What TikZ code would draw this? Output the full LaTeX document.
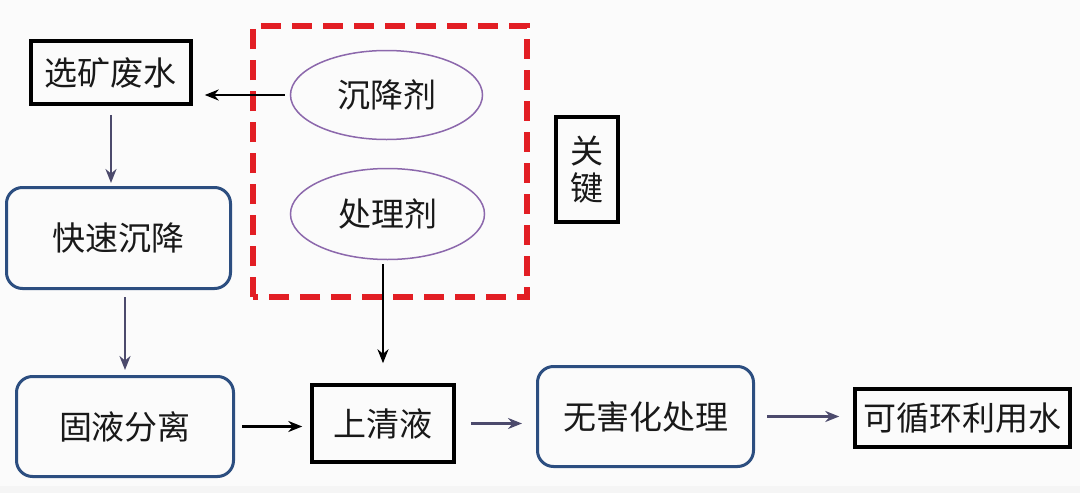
\documentclass[tikz,border=0pt]{standalone}
\usepackage{fontspec}
\newfontfamily\cjk{Noto Sans CJK SC}
\usepackage{tikz}
\usetikzlibrary{arrows.meta, shapes, positioning}

\definecolor{boxblue}{RGB}{44,78,128}
\definecolor{flowgray}{RGB}{76,74,108}
\definecolor{agentpurple}{RGB}{140,104,172}
\definecolor{keyred}{RGB}{226,30,36}
\definecolor{paper}{RGB}{251,251,251}

\tikzset{
	txt/.style={font=\cjk\fontsize{33}{40}\selectfont, text=black!90},
	plainbox/.style={txt, draw=black, line width=3.5pt, inner sep=0pt},
	softbox/.style={txt, draw=boxblue, line width=3pt, rounded corners=16pt, inner sep=0pt},
	agent/.style={txt, ellipse, draw=agentpurple, line width=1.5pt, inner sep=0pt},
	flow/.style={-{Stealth[length=14pt,width=11pt]}, line width=2.3pt, draw=flowgray},
	feed/.style={flow, draw=black},
}

\begin{document}
\begin{tikzpicture}[x=1pt, y=-1pt]
		\useasboundingbox[fill=paper] (0,0) rectangle (1080,493);
		\fill[black!4] (0,486) rectangle (1080,493);
		
		\node[plainbox, minimum width=160pt, minimum height=63pt] (waste) at (111,72.5) {选矿废水};
		\node[softbox, minimum width=224pt, minimum height=101pt] (settle) at (118.5,238) {快速沉降};
		\node[softbox, minimum width=217pt, minimum height=100pt] (split) at (125,426.5) {固液分离};
		\node[plainbox, minimum width=142pt, minimum height=77pt] (clear) at (383,423.5) {上清液};
		\node[softbox, minimum width=216pt, minimum height=100pt] (harmless) at (645.5,416.5) {无害化处理};
		\node[plainbox, minimum width=215pt, minimum height=58pt] (reuse) at (962.5,418) {可循环利用水};
		
		\node[agent, minimum width=192pt, minimum height=89pt] (floc) at (386.5,95) {沉降剂};
		\node[agent, minimum width=194pt, minimum height=91pt] (treat) at (387.5,214) {处理剂};
		\draw[keyred, line width=6pt, dash pattern=on 20pt off 11pt] (253,297) -- (253,26) -- (527,26) -- (527,297) -- cycle;
		\node[plainbox, minimum width=62pt, minimum height=105pt, align=center, font=\cjk\fontsize{33}{37}\selectfont] (key) at (587,169.5) {关\\键};
		
		\draw[feed, shorten <=5pt, shorten >=12pt] (floc.west) -- (floc.west -| waste.east);
		\draw[flow, shorten <=9pt, shorten >=3pt] (waste.south) -- (waste.south |- settle.north);
		\draw[flow, shorten <=7pt, shorten >=5pt] (split.north |- settle.south) -- (split.north);
		\draw[feed, shorten <=4pt, shorten >=20pt] (treat.south -| clear.north) -- (clear.north);
		\draw[feed, shorten <=7pt, shorten >=8pt] (split.east) -- (split.east -| clear.west);
		\draw[flow, shorten <=15pt, shorten >=14pt] (clear.east) -- (clear.east -| harmless.west);
		\draw[flow, shorten <=12pt, shorten >=14pt] (harmless.east) -- (harmless.east -| reuse.west);
\end{tikzpicture}
\end{document}
